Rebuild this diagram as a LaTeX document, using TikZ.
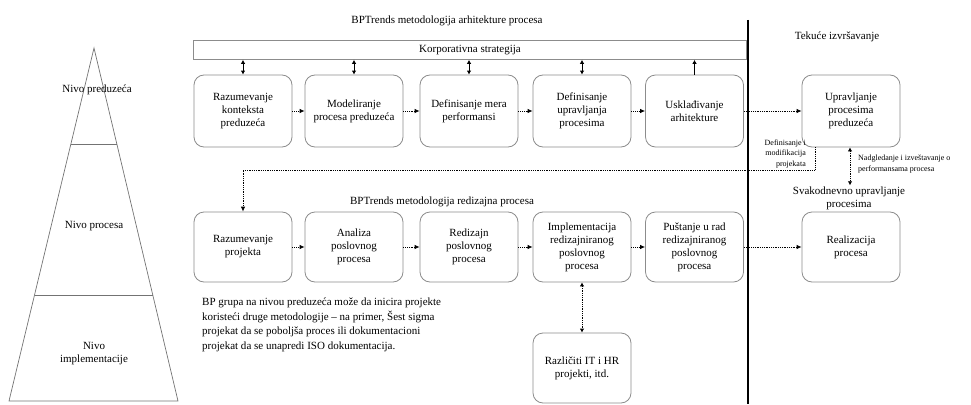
\documentclass[tikz,border=0pt]{standalone}
\usepackage{fontspec}
\setmainfont{Liberation Serif}
\usetikzlibrary{arrows.meta,calc}
\begin{document}
\begin{tikzpicture}[x=1pt,y=-1pt,
  box/.style={draw=black!45, line width=0.8pt, rounded corners=10pt, minimum width=98pt, minimum height=72pt, align=center, font=\fontsize{11}{13}\selectfont, inner sep=1pt},
  boxb/.style={box, minimum height=70pt},
  lbl/.style={font=\fontsize{11}{13}\selectfont, align=center, inner sep=1pt},
  small/.style={font=\fontsize{8}{10.5}\selectfont, inner sep=1pt},
  flowarr/.style={densely dotted, line width=0.8pt, -{Latex[length=5pt,width=4.5pt]}},
  dblarr/.style={line width=0.8pt, {Latex[length=4pt,width=4.5pt]}-{Latex[length=4pt,width=4.5pt]}},
  dbldot/.style={densely dotted, line width=0.8pt, {Latex[length=4pt,width=4.5pt]}-{Latex[length=4pt,width=4.5pt]}},
  pyr/.style={draw=black!55, line width=0.7pt}
]
\useasboundingbox (0,0) rectangle (971,404);

% pyramid
\draw[pyr] (94,48) -- (178,401) -- (9,401) -- cycle;
\draw[pyr] (71,144) -- (117,144);
\draw[pyr] (35,295) -- (153,295);
\node[lbl] (lv1) at (97,90) {Nivo preduzeća};
\node[lbl] (lv2) at (94,226) {Nivo procesa};
\node[lbl] (lv3) at (94,354) {Nivo\\implementacije};

% titles
\node[lbl] (t1) at (447,21) {BPTrends metodologija arhitekture procesa};
\node[lbl] (t2) at (837,37) {Tekuće izvršavanje};
\node[lbl] (t3) at (442,202) {BPTrends metodologija redizajna procesa};

% corporate strategy bar
\node[draw=black!45, line width=0.8pt, minimum width=553pt, minimum height=19pt, inner sep=0pt, anchor=north west, font=\fontsize{11}{13}\selectfont] (corp) at (193,40) {};
\node[lbl] (corpt) at (470,50) {Korporativna strategija};

% vertical separator
\coordinate (vtop) at (748,20);
\coordinate (vbot) at (748,404);
\draw[line width=2.6pt] (vtop) -- (vbot);

% top row
\node[box] (a1) at (243,111) {Razumevanje\\konteksta\\preduzeća};
\node[box] (a2) at (354,111) {Modeliranje\\procesa preduzeća};
\node[box] (a3) at (469,111) {Definisanje mera\\performansi};
\node[box] (a4) at (582,111) {Definisanje\\upravljanja\\procesima};
\node[box] (a5) at (694.5,111) {Usklađivanje\\arhitekture};
\node[box] (r1) at (851,111) {Upravljanje\\procesima\\preduzeća};

\foreach \n in {a1,a2,a3,a4}{
  \draw[dblarr] (\n.north) -- (\n.north |- corp.south);
}
\draw[line width=0.8pt, -{Latex[length=4pt,width=4.5pt]}] (a5.north) -- (a5.north |- corp.south);

\draw[flowarr] (a1.east) -- (a2.west);
\draw[flowarr] (a2.east) -- (a3.west);
\draw[flowarr] (a3.east) -- (a4.west);
\draw[flowarr] (a4.east) -- (a5.west);
\draw[flowarr] (a5.east) -- (r1.west);

% bottom row
\node[boxb] (p1) at (243,247) {Razumevanje\\projekta};
\node[boxb] (p2) at (354,247) {Analiza\\poslovnog\\procesa};
\node[boxb] (p3) at (469,247) {Redizajn\\poslovnog\\procesa};
\node[boxb] (p4) at (582,247) {Implementacija\\redizajniranog\\poslovnog\\procesa};
\node[boxb] (p5) at (694.5,247) {Puštanje u rad\\redizajniranog\\poslovnog\\procesa};
\node[boxb] (re) at (851,247) {Realizacija\\procesa};
\node[boxb] (it) at (582,368) {Različiti IT i HR\\projekti, itd.};

\draw[flowarr] (p1.east) -- (p2.west);
\draw[flowarr] (p2.east) -- (p3.west);
\draw[flowarr] (p3.east) -- (p4.west);
\draw[flowarr] (p4.east) -- (p5.west);
\draw[flowarr] (p5.east) -- (re.west);
\draw[dbldot] (p4.south) -- (it.north);

% feedback from upravljanje to razumevanje projekta
\coordinate (fb1) at (815,147);
\coordinate (fb2) at (815,170);
\draw[flowarr] (fb1) -- (fb2) -- (fb2 -| p1.north) -- (p1.north);
\node[small, align=right, anchor=east] (defl) at (807,154) {Definisanje i\\modifikacija\\projekata};

% monitoring
\node[lbl] (sv) at (849,198) {Svakodnevno upravljanje\\procesima};
\draw[dbldot] (r1.south -| 850,0) -- (sv.north -| 850,0);
\node[small, align=left, anchor=west] (nad) at (857,164) {Nadgledanje i izveštavanje o\\performansama procesa};

% paragraph
\node[anchor=north west, align=left, inner sep=0pt, font=\fontsize{11}{14.5}\selectfont] (para) at (202,298)
 {BP grupa na nivou preduzeća može da inicira projekte\\
  koristeći druge metodologije – na primer, Šest sigma\\
  projekat da se poboljša proces ili dokumentacioni\\
  projekat da se unapredi ISO dokumentacija.};
\end{tikzpicture}
\end{document}
